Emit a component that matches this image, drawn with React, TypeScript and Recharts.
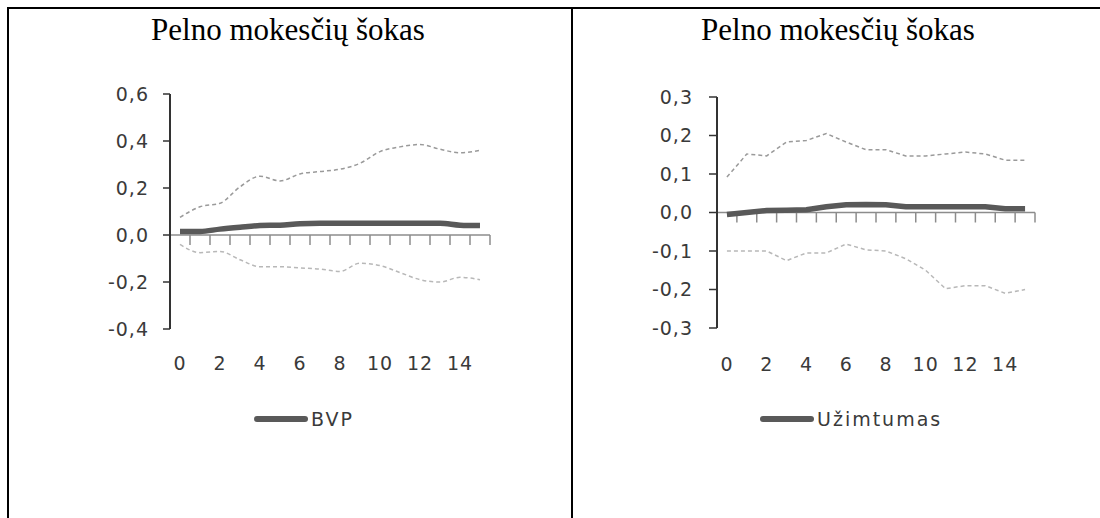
import { LineChart, Line, XAxis, YAxis, ReferenceLine, Legend } from 'recharts';

// horizon (quarters after the shock)
const horizons = [0, 1, 2, 3, 4, 5, 6, 7, 8, 9, 10, 11, 12, 13, 14, 15];
const xTicks = [0, 2, 4, 6, 8, 10, 12, 14];

// GDP response with confidence band
const bvp = [0.015, 0.015, 0.025, 0.033, 0.04, 0.042, 0.048, 0.05, 0.05, 0.05, 0.05, 0.05, 0.05, 0.05, 0.042, 0.04];
const bvpUpper = [0.075, 0.12, 0.135, 0.205, 0.25, 0.23, 0.26, 0.27, 0.28, 0.305, 0.355, 0.375, 0.385, 0.365, 0.35, 0.36];
const bvpLower = [-0.04, -0.075, -0.07, -0.105, -0.135, -0.135, -0.14, -0.145, -0.155, -0.12, -0.13, -0.16, -0.19, -0.2, -0.18, -0.19];
const bvpTicks = [-0.4, -0.2, 0, 0.2, 0.4, 0.6];

// employment response with confidence band
const empl = [-0.005, 0.0, 0.005, 0.006, 0.007, 0.015, 0.02, 0.021, 0.02, 0.015, 0.015, 0.015, 0.015, 0.015, 0.01, 0.01];
const emplUpper = [0.092, 0.152, 0.147, 0.183, 0.187, 0.205, 0.183, 0.163, 0.163, 0.147, 0.147, 0.152, 0.157, 0.152, 0.136, 0.136];
const emplLower = [-0.1, -0.1, -0.1, -0.125, -0.105, -0.105, -0.082, -0.097, -0.1, -0.12, -0.15, -0.198, -0.19, -0.19, -0.21, -0.2];
const emplTicks = [-0.3, -0.2, -0.1, 0, 0.1, 0.2, 0.3];

const TITLE = 'Pelno mokesčių šokas';

const TEXT = '#3a3a3a';
const MAIN = '#595959';
const AXIS_GREY = '#8c8c8c';
const FONT = 19;

const build = (mid: number[], hi: number[], lo: number[]) =>
  horizons.map((h, i) => ({ h, mid: mid[i], hi: hi[i], lo: lo[i] }));

const fmt = (v: number) => v.toFixed(1).replace('.', ',');

// category axis drawn through zero, with tick marks between categories
const ZeroAxis = (props: any) => {
  const { x1, x2, y1 } = props;
  const step = (x2 - x1) / horizons.length;
  return (
    <g>
      <line x1={x1} x2={x2} y1={y1} y2={y1} stroke={AXIS_GREY} strokeWidth={1.5} />
      {horizons.map((h, i) => (
        <line
          key={h}
          x1={x1 + step * (i + 1)}
          x2={x1 + step * (i + 1)}
          y1={y1}
          y2={y1 + 10}
          stroke={AXIS_GREY}
          strokeWidth={1.5}
        />
      ))}
    </g>
  );
};

const LegendItem = ({ payload }: any) => {
  const item = (payload || []).find((p: any) => p.dataKey === 'mid');
  if (!item) return null;
  return (
    <div style={{ display: 'flex', alignItems: 'center', height: 24, whiteSpace: 'nowrap' }}>
      <span style={{ display: 'inline-block', width: 54, height: 6, borderRadius: 3, background: MAIN }} />
      <span style={{ marginLeft: 3, fontSize: FONT, letterSpacing: '2px', color: TEXT }}>{item.value}</span>
    </div>
  );
};

type PanelProps = {
  left: number;
  width: number;
  margin: { top: number; right: number; bottom: number; left: number };
  data: ReturnType<typeof build>;
  ticks: number[];
  name: string;
  curve: 'monotone' | 'linear';
  tickSize: number;
  tickMargin: number;
  xMargin: number;
  legendLeft: number;
};

function Panel(p: PanelProps) {
  return (
    <div style={{ position: 'absolute', left: p.left, top: 0, fontFamily: 'DejaVu Sans', letterSpacing: '1px' }}>
      <LineChart width={p.width} height={518} data={p.data} margin={p.margin}>
        <XAxis
          dataKey="h"
          type="number"
          domain={[-0.5, 15.5]}
          ticks={xTicks}
          axisLine={false}
          tickLine={false}
          tickSize={0}
          tickMargin={p.xMargin}
          height={60}
          tick={{ fill: TEXT, fontSize: FONT }}
        />
        <YAxis
          type="number"
          domain={[p.ticks[0], p.ticks[p.ticks.length - 1]]}
          ticks={p.ticks}
          interval={0}
          width={70}
          tickFormatter={fmt}
          tickSize={p.tickSize}
          tickMargin={p.tickMargin}
          axisLine={{ stroke: '#333', strokeWidth: 2 }}
          tickLine={{ stroke: '#333', strokeWidth: 1.5 }}
          tick={{ fill: TEXT, fontSize: FONT }}
        />
        <ReferenceLine y={0} shape={ZeroAxis} />
        <Line
          type={p.curve}
          dataKey="hi"
          stroke="#9a9a9a"
          strokeWidth={1.5}
          strokeDasharray="4 3"
          dot={false}
          activeDot={false}
          legendType="none"
          isAnimationActive={false}
        />
        <Line
          type={p.curve}
          dataKey="lo"
          stroke="#b8b8b8"
          strokeWidth={1.5}
          strokeDasharray="4 3"
          dot={false}
          activeDot={false}
          legendType="none"
          isAnimationActive={false}
        />
        <Line
          type={p.curve}
          dataKey="mid"
          name={p.name}
          stroke={MAIN}
          strokeWidth={5.5}
          dot={false}
          activeDot={false}
          isAnimationActive={false}
        />
        <Legend
          layout="horizontal"
          verticalAlign="middle"
          align="center"
          content={<LegendItem />}
          wrapperStyle={{ left: p.legendLeft, top: 407, width: 'auto', height: 24 }}
        />
      </LineChart>
    </div>
  );
}

const titleStyle = (center: number): React.CSSProperties => ({
  position: 'absolute',
  top: 14,
  left: center - 200,
  width: 400,
  textAlign: 'center',
  fontFamily: '"Liberation Serif", "Times New Roman", serif',
  fontSize: 31,
  lineHeight: '31px',
  color: '#000',
});

export default function App() {
  return (
    <div style={{ position: 'absolute', left: 0, top: 0, width: 1100, height: 518, background: '#fff', overflow: 'hidden' }}>
      <div style={{ position: 'absolute', left: 7, top: 7, width: 1093, height: 2, background: '#000' }} />
      <div style={{ position: 'absolute', left: 7, top: 7, width: 2, height: 511, background: '#000' }} />
      <div style={{ position: 'absolute', left: 571, top: 7, width: 2, height: 511, background: '#000' }} />
      <div style={titleStyle(288)}>{TITLE}</div>
      <div style={titleStyle(838)}>{TITLE}</div>
      <Panel
        left={0}
        width={560}
        margin={{ top: 94, right: 70, bottom: 129, left: 100 }}
        data={build(bvp, bvpUpper, bvpLower)}
        ticks={bvpTicks}
        name="BVP"
        curve="monotone"
        tickSize={7}
        tickMargin={14}
        xMargin={28}
        legendLeft={254}
      />
      <Panel
        left={560}
        width={540}
        margin={{ top: 97, right: 65, bottom: 130, left: 87 }}
        data={build(empl, emplUpper, emplLower)}
        ticks={emplTicks}
        name="Užimtumas"
        curve="linear"
        tickSize={8}
        tickMargin={16}
        xMargin={30}
        legendLeft={200}
      />
    </div>
  );
}
